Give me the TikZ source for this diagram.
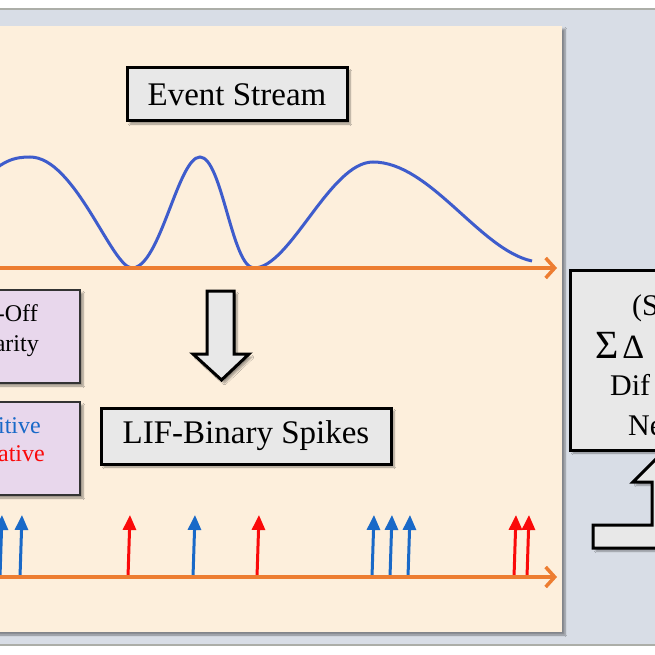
\documentclass[tikz,border=0pt]{standalone}
\usepackage{fontspec}
\setmainfont{Liberation Serif}
\usetikzlibrary{arrows.meta,shadows.blur}
\definecolor{BackClr}{RGB}{216,221,230}
\definecolor{PanelClr}{RGB}{253,239,220}
\definecolor{AxisClr}{RGB}{237,125,49}
\definecolor{WaveClr}{RGB}{62,92,204}
\definecolor{PosClr}{RGB}{25,105,200}
\definecolor{NegClr}{RGB}{250,10,10}
\definecolor{BoxClr}{RGB}{232,232,232}
\definecolor{PolClr}{RGB}{232,215,236}
\definecolor{EdgeClr}{RGB}{172,174,168}

\tikzset{
  softshadow/.style={blur shadow={shadow xshift=3pt,shadow yshift=-3pt,shadow blur steps=6,shadow opacity=40}},
  titlebox/.style={draw=black,line width=3pt,fill=BoxClr,softshadow,font=\fontsize{33}{40}\selectfont},
  polbox/.style={draw=black!80,line width=2pt,fill=PolClr,softshadow},
  hollow/.style={draw=black,line width=3pt,fill=BoxClr,line join=miter,softshadow},
  axis/.style={AxisClr,line width=3.5pt,-{Straight Barb[length=9pt,width=20pt]}},
  spike/.style={line width=3pt,-{Triangle[length=15pt,width=13pt]}},
  smallfrag/.style={inner sep=0pt,anchor=base east,font=\fontsize{24}{29}\selectfont},
  bigfrag/.style={inner sep=0pt,anchor=base west,font=\fontsize{30}{36}\selectfont},
}

\begin{document}
\begin{tikzpicture}[x=1pt,y=-1pt]
\useasboundingbox (0,0) rectangle (655,655);
\clip (0,0) rectangle (655,655);

\fill[white] (0,0) rectangle (655,655);
\fill[BackClr] (0,9) rectangle (655,645);
\draw[EdgeClr,line width=1.5pt] (0,9) -- (655,9) (0,645) -- (655,645);

\fill[PanelClr,softshadow] (-20,26) rectangle (562,632);

\node[titlebox,minimum width=220pt,minimum height=53pt] (stream) at (237,94.5) {Event Stream};

\draw[WaveClr,line width=3pt] (-20,185) .. controls (0,160) and (15,157) .. (30,157)
  .. controls (75,157) and (112,268) .. (132,268)
  .. controls (160,268) and (178,157) .. (200,157)
  .. controls (222,157) and (232,268) .. (254,268)
  .. controls (290,268) and (330,162) .. (373,162)
  .. controls (430,162) and (480,250) .. (532,261);
\draw[axis] (-10,268) -- (557,268);

\draw[polbox] (-20,290) rectangle (80,383);
\draw[polbox] (-20,402) rectangle (80,495);
\node[smallfrag] (onoff) at (38,321) {-Off};
\node[smallfrag] (polar) at (39,351) {arity};
\node[smallfrag,text=PosClr] (pos) at (41,433) {itive};
\node[smallfrag,text=NegClr] (neg) at (45,461) {ative};

\draw[hollow] (207,291) -- (234,291) -- (234,354) -- (249,354) -- (221.5,380) -- (193,354) -- (207,354) -- cycle;

\node[titlebox,minimum width=290pt,minimum height=56pt] (lif) at (246,436) {LIF-Binary Spikes};

\foreach \x in {0,20,193,372,390,408}
  \draw[spike,PosClr] (\x,577) -- (\x+2,515);
\foreach \x in {128,257,514,527}
  \draw[spike,NegClr] (\x,577) -- (\x+2,515);
\draw[axis] (-10,577) -- (557,577);

\draw[titlebox] (570,270) rectangle (700,450);
\node[bigfrag] (sn) at (632,315) {(S};
\node[bigfrag] (sum) at (595,358) {{\fontsize{40}{40}\selectfont Σ}\kern4pt{\fontsize{34}{36}\selectfont Δ}};
\node[bigfrag] (dif) at (610,395) {Dif};
\node[bigfrag] (ne) at (628,435) {Ne};

\draw[hollow] (593,525) -- (652,525) -- (652,482) -- (633,482) -- (663.5,451.5) -- (694,482) -- (675,482) -- (675,548) -- (593,548) -- cycle;

\end{tikzpicture}
\end{document}
